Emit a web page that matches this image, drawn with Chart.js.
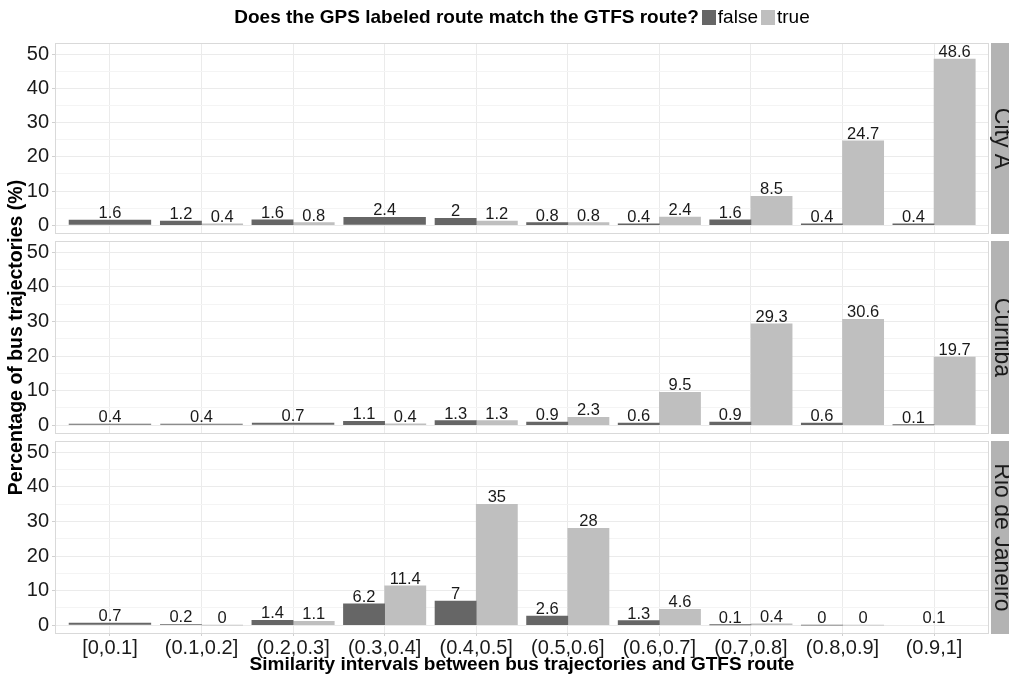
<!DOCTYPE html>
<html>
<head>
<meta charset="utf-8">
<script src="https://cdn.jsdelivr.net/npm/chart.js@4.4.0/dist/chart.umd.min.js"></script>
<style>
    body { margin: 0; background: #fff; width: 1009px; height: 676px; overflow: hidden; position: relative; font-family: "Liberation Sans", Arial, sans-serif; }
    canvas { position: absolute; left: 0; top: 0; }
    #head { position: absolute; left: 55px; width: 934px; top: 6px; text-align: center; font-size: 19px; color: #000; white-space: nowrap; z-index: 5; }
    #head b { font-weight: bold; }
    .key { display: inline-block; width: 14px; height: 15px; vertical-align: -2px; margin: 0 2px 0 3px; }
</style>
</head>
<body>
<div id="head"><b>Does the GPS labeled route match the GTFS route?</b><span class="key" style="background:#666666"></span>false<span class="key" style="background:#bfbfbf"></span>true</div>
<canvas id="c0" width="1009" height="676"></canvas>
<canvas id="c1" width="1009" height="676"></canvas>
<canvas id="c2" width="1009" height="676"></canvas>
<script>
    'use strict'

    var categories = ['[0,0.1]', '(0.1,0.2]', '(0.2,0.3]', '(0.3,0.4]', '(0.4,0.5]', '(0.5,0.6]', '(0.6,0.7]', '(0.7,0.8]', '(0.8,0.9]', '(0.9,1]'];
    var cities = ['City A', 'Curitiba', 'Rio de Janeiro'];

    // null = no bar for that group (the other one then takes the whole slot)
    var falseCityA = [1.6, 1.2, 1.6, 2.4, 2, 0.8, 0.4, 1.6, 0.4, 0.4];
    var trueCityA = [null, 0.4, 0.8, null, 1.2, 0.8, 2.4, 8.5, 24.7, 48.6];
    var falseCuritiba = [0.4, 0.4, 0.7, 1.1, 1.3, 0.9, 0.6, 0.9, 0.6, 0.1];
    var trueCuritiba = [null, null, null, 0.4, 1.3, 2.3, 9.5, 29.3, 30.6, 19.7];
    var falseRio = [0.7, 0.2, 1.4, 6.2, 7, 2.6, 1.3, 0.1, 0, null];
    var trueRio = [null, 0, 1.1, 11.4, 35, 28, 4.6, 0.4, 0, 0.1];

    var falseVals = [falseCityA, falseCuritiba, falseRio];
    var trueVals = [trueCityA, trueCuritiba, trueRio];

    var yTicks = [0, 10, 20, 30, 40, 50];
    var yMinorTicks = [5, 15, 25, 35, 45];

    var FALSE_COLOR = '#666666';
    var TRUE_COLOR = '#bfbfbf';
    var FONT = '"Liberation Sans", Arial, sans-serif';

    // where each facet panel sits on the page
    var panels = [
        { top: 43, bottom: 234 },
        { top: 241, bottom: 434 },
        { top: 441, bottom: 634 }
    ];

    function buildDatasets(f, t) {
        var pairF = [], pairT = [], single = [], singleColors = [];
        for (var i = 0; i < categories.length; i++) {
            if (f[i] != null && t[i] != null) {
                pairF.push({ x: i - 0.225, y: f[i] });
                pairT.push({ x: i + 0.225, y: t[i] });
            } else if (f[i] != null) {
                single.push({ x: i, y: f[i] });
                singleColors.push(FALSE_COLOR);
            } else if (t[i] != null) {
                single.push({ x: i, y: t[i] });
                singleColors.push(TRUE_COLOR);
            }
        }
        return [
            { label: 'false', data: pairF, backgroundColor: FALSE_COLOR, barPercentage: 1, categoryPercentage: 1, grouped: false },
            { label: 'true', data: pairT, backgroundColor: TRUE_COLOR, barPercentage: 1, categoryPercentage: 1, grouped: false },
            { label: 'single', data: single, backgroundColor: singleColors, barPercentage: 2, categoryPercentage: 1, grouped: false }
        ];
    }

    var valueLabels = {
        id: 'valueLabels',
        afterDatasetsDraw: function (chart) {
            var ctx = chart.ctx;
            ctx.save();
            ctx.font = '16.5px ' + FONT;
            ctx.fillStyle = '#1a1a1a';
            ctx.textAlign = 'center';
            ctx.textBaseline = 'alphabetic';
            chart.data.datasets.forEach(function (ds, di) {
                var meta = chart.getDatasetMeta(di);
                meta.data.forEach(function (bar, i) {
                    ctx.fillText(String(ds.data[i].y), bar.x, bar.y - 2);
                });
            });
            ctx.restore();
        }
    };

    // panel border + grey facet strip on the right
    var panelFrame = {
        id: 'panelFrame',
        afterDraw: function (chart, args, opts) {
            var a = chart.chartArea, ctx = chart.ctx;
            ctx.save();
            ctx.strokeStyle = '#d9d9d9';
            ctx.lineWidth = 1;
            ctx.strokeRect(a.left + 0.5, a.top + 0.5, a.right - a.left - 1, a.bottom - a.top - 1);
            ctx.fillStyle = '#b3b3b3';
            ctx.fillRect(a.right + 2, a.top, chart.width - a.right - 2, a.bottom - a.top);
            ctx.translate(a.right + 6, (a.top + a.bottom) / 2);
            ctx.rotate(Math.PI / 2);
            ctx.font = '23px ' + FONT;
            ctx.fillStyle = '#1a1a1a';
            ctx.textAlign = 'center';
            ctx.textBaseline = 'alphabetic';
            ctx.fillText(opts.label, 0, 0);
            ctx.restore();
        }
    };

    function makePanel(k) {
        var p = panels[k];
        var isBottom = k === panels.length - 1;
        var isMiddle = k === 1;

        return new Chart(document.getElementById('c' + k).getContext('2d'), {
            type: 'bar',
            data: { datasets: buildDatasets(falseVals[k], trueVals[k]) },
            plugins: [valueLabels, panelFrame],
            options: {
                responsive: false,
                animation: false,
                layout: { padding: { top: p.top, bottom: isBottom ? 0 : 676 - p.bottom, left: 0, right: 20 } },
                plugins: {
                    legend: { display: false },
                    tooltip: { enabled: false },
                    panelFrame: { label: cities[k] }
                },
                scales: {
                    x: {
                        type: 'linear',
                        min: -0.6,
                        max: 9.6,
                        offset: false,
                        afterBuildTicks: function (s) {
                            s.ticks = categories.map(function (c, i) { return { value: i }; });
                        },
                        afterFit: function (s) { s.height = isBottom ? 42 : 0; },
                        ticks: {
                            display: isBottom,
                            autoSkip: false,
                            maxRotation: 0,
                            padding: 0,
                            color: '#1a1a1a',
                            font: { size: 20, family: FONT },
                            callback: function (v) { return categories[v]; }
                        },
                        grid: { color: '#ebebeb', offset: false, drawTicks: isBottom, tickLength: 2, tickColor: '#d0d0d0' },
                        border: { display: false },
                        title: {
                            display: isBottom,
                            text: 'Similarity intervals between bus trajectories and GTFS route',
                            color: '#000',
                            font: { size: 19, weight: 'bold', family: FONT },
                            padding: { top: 0, bottom: 0 }
                        }
                    },
                    y: {
                        min: -2.55,
                        max: 53.3,
                        afterBuildTicks: function (s) {
                            s.ticks = yTicks.concat(yMinorTicks).sort(function (a, b) { return a - b; })
                                .map(function (v) { return { value: v }; });
                        },
                        afterFit: function (s) { s.width = 55; },
                        ticks: {
                            autoSkip: false,
                            padding: 3,
                            color: '#1a1a1a',
                            font: { size: 20, family: FONT },
                            callback: function (v) { return yTicks.indexOf(v) >= 0 ? String(v) : ''; }
                        },
                        grid: {
                            drawTicks: true,
                            tickLength: 3,
                            color: function (c) { return yTicks.indexOf(c.tick.value) >= 0 ? '#ebebeb' : '#f4f4f4'; },
                            tickColor: function (c) { return yTicks.indexOf(c.tick.value) >= 0 ? '#d0d0d0' : 'rgba(0,0,0,0)'; }
                        },
                        border: { display: false },
                        title: {
                            display: isMiddle,
                            text: 'Percentage of bus trajectories (%)',
                            color: '#000',
                            font: { size: 19.5, weight: 'bold', family: FONT },
                            padding: { top: 5, bottom: 0 }
                        }
                    }
                }
            }
        });
    }

    var charts = panels.map(function (p, k) { return makePanel(k); });
</script>
</body>
</html>
